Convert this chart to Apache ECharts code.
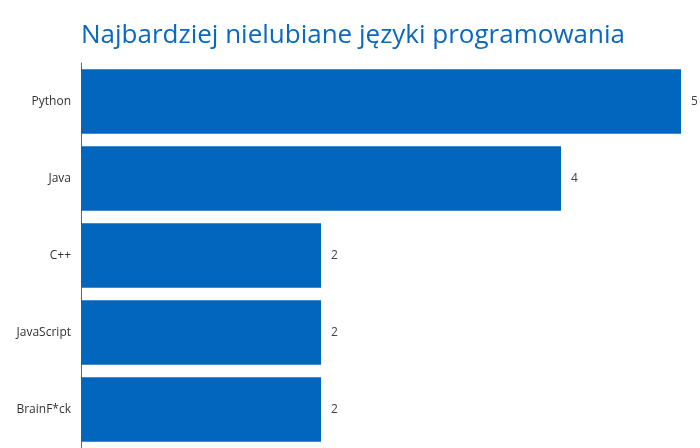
<!DOCTYPE html>
<html><head><meta charset="utf-8">
<script src="https://cdn.jsdelivr.net/npm/echarts@6/dist/echarts.min.js"></script>
<style>html,body{margin:0;padding:0;background:#fff}#c{width:700px;height:448px}</style>
</head><body><div id="c"></div>
<script>
var titleText = 'Najbardziej nielubiane języki programowania';
var categories = ['Python', 'Java', 'C++', 'JavaScript', 'BrainF*ck'];
var values = [5, 4, 2, 2, 2];

var chart = echarts.init(document.getElementById('c'), null, {renderer: 'canvas'});
chart.setOption({
  animation: false,
  backgroundColor: '#ffffff',
  title: {
    text: titleText,
    left: 76, top: 18,
    textStyle: {fontFamily: 'Open Sans', fontSize: 26, fontWeight: 'normal', color: '#0a68c0'}
  },
  grid: {left: 81, right: 19, top: 63, bottom: 0, containLabel: false},
  xAxis: {
    type: 'value', min: 0, max: 5, show: false
  },
  yAxis: {
    type: 'category', data: categories, inverse: true,
    axisLine: {show: true, lineStyle: {color: '#666', width: 1}},
    axisTick: {show: false},
    axisLabel: {fontFamily: 'Open Sans', fontSize: 12, color: '#333', margin: 10}
  },
  series: [{
    type: 'bar', data: values,
    barCategoryGap: '16%',
    itemStyle: {color: '#0266bf'},
    label: {show: true, position: 'right', distance: 10, fontFamily: 'Open Sans', fontSize: 12, color: '#444'}
  }]
});
</script></body></html>
